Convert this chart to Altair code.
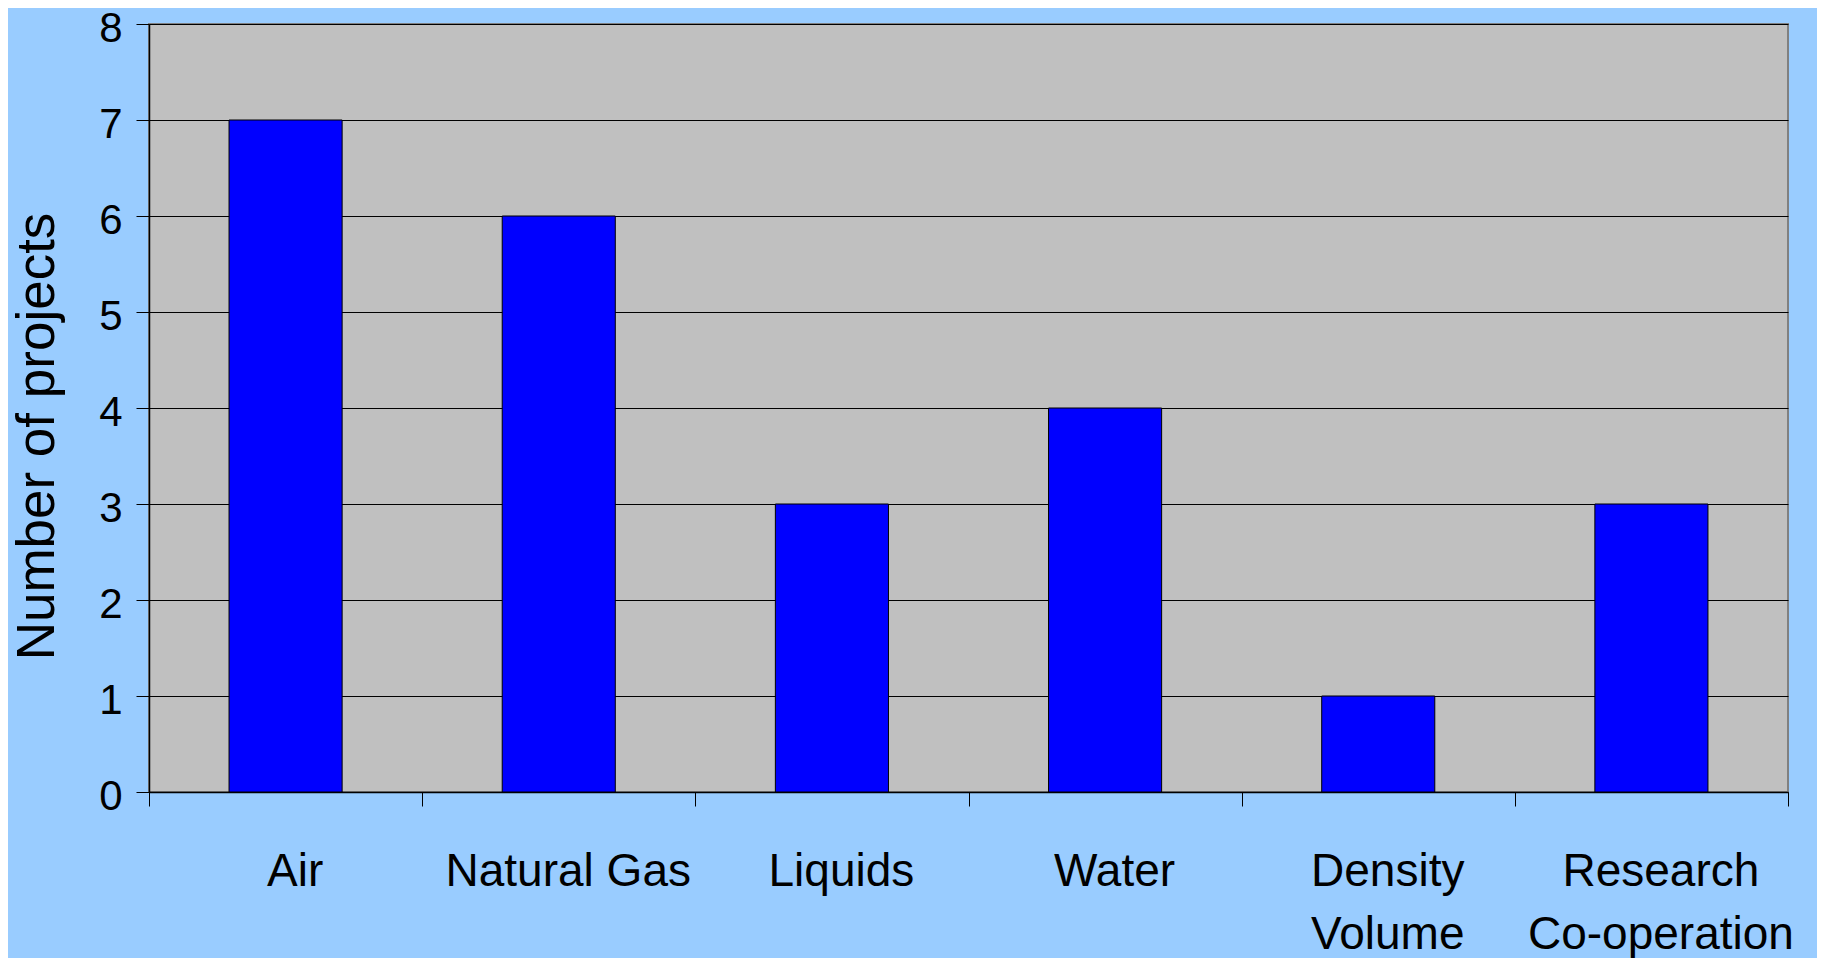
import altair as alt
import pandas as pd

categories = ["Air", "Natural Gas", "Liquids", "Water", "Density|Volume", "Research|Co-operation"]
projects = [7, 6, 3, 4, 1, 3]
y_ticks = [0, 1, 2, 3, 4, 5, 6, 7, 8]

df = pd.DataFrame({"category": categories, "projects": projects})

FONT = "Liberation Sans"

chart = alt.Chart(df).mark_bar(
    color="#0000ff", stroke="#000000", strokeWidth=1, width={"band": 0.414}
).encode(
    x=alt.X(
        "category:N",
        sort=categories,
        scale=alt.Scale(paddingInner=0, paddingOuter=0),
        axis=alt.Axis(
            title=None, labelAngle=0, labelExpr="split(datum.label, '|')",
            labelFont=FONT, labelFontSize=46, labelColor="black",
            labelBaseline="top", labelLineHeight=63, labelPadding=43,
            labelOverlap=False, labelLimit=600, labelOffset=9,
            tickBand="extent", tickSize=14, tickColor="black", tickWidth=1,
            domainColor="black", domainWidth=1.5, grid=False,
        ),
    ),
    y=alt.Y(
        "projects:Q",
        scale=alt.Scale(domain=[0, 8], nice=False),
        axis=alt.Axis(
            title="Number of projects", values=y_ticks,
            labelFont=FONT, labelFontSize=42, labelColor="black",
            labelPadding=14, labelOffset=4,
            tickSize=13, tickColor="black", tickWidth=1,
            domainColor="black", domainWidth=1.5,
            grid=True, gridColor="#000000", gridWidth=1,
            titleFont=FONT, titleFontSize=53, titleFontWeight="normal",
            titleColor="black", titleAngle=270, titleX=-112, titleY=412,
            titleBaseline="middle", titleAlign="center",
        ),
    ),
).properties(
    width=1639,
    height=768,
    background="#99ccff",
    padding={"left": 141, "top": 16, "right": 29, "bottom": 172},
    autosize=alt.AutoSizeParams(type="none"),
).configure_view(fill="#c0c0c0", stroke="#808080", strokeWidth=2)

chart.save("out.html", embed_options={"renderer": "svg", "actions": False})
